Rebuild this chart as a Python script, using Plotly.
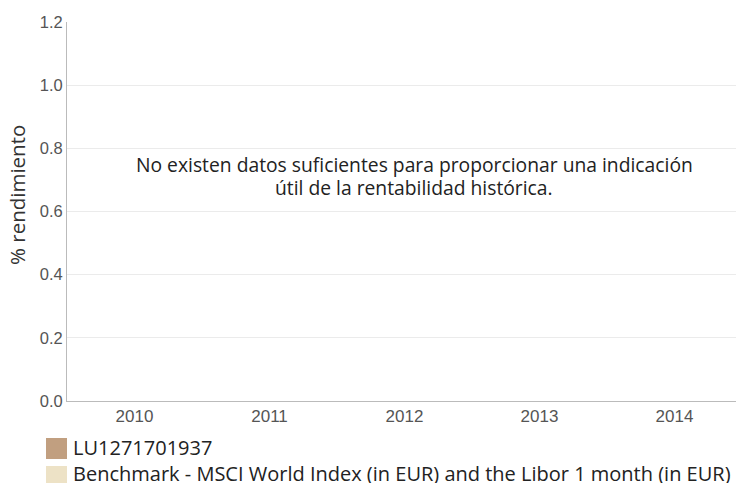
import plotly.graph_objects as go

years = ["2010", "2011", "2012", "2013", "2014"]
fund_values = [None, None, None, None, None]
bench_values = [None, None, None, None, None]
series_names = ["LU1271701937",
                "Benchmark - MSCI World Index (in EUR) and the Libor 1 month (in EUR)"]
series_colors = ["#C19F80", "#EDE2C6"]
y_ticks = [0.0, 0.2, 0.4, 0.6, 0.8, 1.0, 1.2]
message_lines = ["No existen datos suficientes para proporcionar una indicación",
                 "útil de la rentabilidad histórica."]
y_title = "% rendimiento"

OFF = 8  # page body margin
W, H = 744 - OFF, 483 - OFF
left, right, top, bottom = 67, 742, 22, 401  # plot area in screen px
ml, mr, mt, mb = left - OFF, (W + OFF) - right, top - OFF, (H + OFF) - bottom
pw, ph = W - ml - mr, H - mt - mb


def px(x):
    return (x - left) / pw


def py(y):
    return 1 - (y - top) / ph


fig = go.Figure()
for name, vals, col in zip(series_names, [fund_values, bench_values], series_colors):
    fig.add_trace(go.Bar(x=years, y=vals, name=name, marker_color=col, showlegend=False))

TXT = "Open Sans"
annotations = []
for line, yc in zip(message_lines, [164.5, 187]):
    annotations.append(dict(text=line, xref="paper", yref="paper", x=px(414), y=py(yc),
                            showarrow=False, font=dict(family=TXT, size=19.3, color="#222"),
                            xanchor="center", yanchor="middle"))
annotations.append(dict(text=y_title, xref="paper", yref="paper", x=px(17), y=py(195),
                        showarrow=False, textangle=-90,
                        font=dict(family=TXT, size=20.5, color="#333"),
                        xanchor="center", yanchor="middle"))
shapes = []
swatch_rows = [448.5, 476.5]
text_rows = [447.5, 473]
for name, col, ys, yt in zip(series_names, series_colors, swatch_rows, text_rows):
    shapes.append(dict(type="rect", xref="paper", yref="paper",
                       x0=px(46), x1=px(67), y0=py(ys + 10.5), y1=py(ys - 10.5),
                       fillcolor=col, line=dict(width=0), layer="above"))
    annotations.append(dict(text=name, xref="paper", yref="paper", x=px(71),
                            y=py(yt), showarrow=False, xanchor="left",
                            yanchor="middle", font=dict(family=TXT, size=20, color="#222")))

fig.update_layout(
    width=W, height=H, margin=dict(l=ml, r=mr, t=mt, b=mb, autoexpand=False),
    paper_bgcolor="white", plot_bgcolor="white",
    annotations=annotations, shapes=shapes,
    xaxis=dict(type="category", categoryorder="array", categoryarray=years, range=[-0.5, 4.5],
               showline=True, linecolor="#BBBBBB", linewidth=1, showgrid=False, ticks="",
               tickfont=dict(family="Liberation Sans, Arial", size=17, color="#555")),
    yaxis=dict(range=[0, 1.2], tickvals=y_ticks, tickformat=".1f", showline=True,
               linecolor="#BBBBBB", linewidth=1, gridcolor="#EBEBEB", zeroline=False, ticks="",
               tickfont=dict(family="Liberation Sans, Arial", size=16.5, color="#555")),
)
fig.write_html("out.html")
